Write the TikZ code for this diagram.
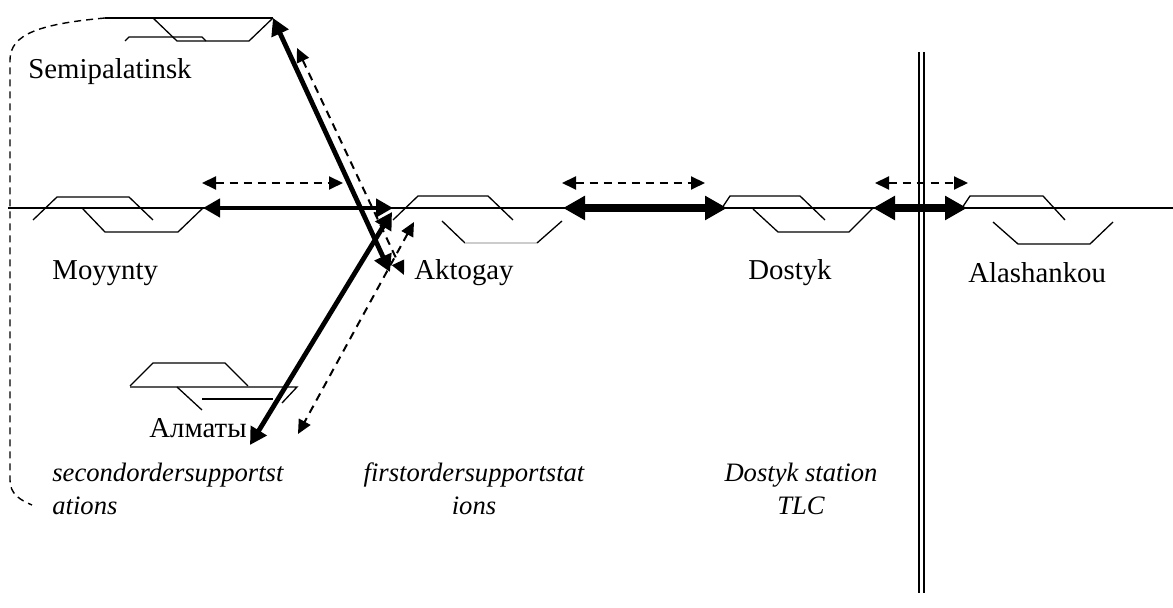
\documentclass[tikz,border=0pt]{standalone}
\usepackage{fontspec}
\setmainfont{Liberation Serif}
\usepackage{tikz}
\usetikzlibrary{arrows.meta}

\tikzset{
  rail/.style={line width=0.65pt},
  link/.style={line width=2.4pt,{Triangle[length=8.5pt,width=9pt]}-{Triangle[length=8.5pt,width=9pt]}},
  mainlink/.style={line width=4pt,{Triangle[length=11pt,width=11.5pt]}-{Triangle[length=11pt,width=11.5pt]}},
  planlink/.style={line width=1pt,dash pattern=on 4pt off 3pt,{Triangle[length=7pt,width=6.5pt]}-{Triangle[length=7pt,width=6.5pt]}},
  stname/.style={font=\fontsize{14.4}{16}\selectfont,inner sep=0pt},
  note/.style={font=\fontsize{13.3}{16.5}\selectfont\itshape,inner sep=0pt}
}

\begin{document}
\begin{tikzpicture}[x=0.5pt,y=-0.5pt]
\useasboundingbox (0,0) rectangle (1173,608);

\draw[rail] (8,208) -- (1173,208);
\draw[line width=0.8pt] (919,52) -- (919,593);
\draw[line width=0.8pt] (924,52) -- (924,593);

\draw[rail] (105,18) -- (273,18);
\draw[rail] (153,18) -- (177,41) -- (249,41) -- (273,18);
\draw[rail] (125,41) -- (129,37) -- (202,37) -- (206,41);
\draw[rail] (33,220) -- (57,197) -- (129,197) -- (153,220);
\draw[rail] (82,208) -- (105,232) -- (178,232) -- (203,208);
\draw[rail] (393,220) -- (418,196) -- (488,196) -- (513,220);
\draw[rail] (442,221) -- (465,243);
\draw[rail,gray!40] (465,243) -- (537,243);
\draw[rail] (537,243) -- (562,221);
\draw[rail] (722,208) -- (730,196) -- (800,196) -- (825,220);
\draw[rail] (753,209) -- (778,232) -- (849,232) -- (873,208);
\draw[rail] (962,208) -- (970,196) -- (1043,196) -- (1065,220);
\draw[rail] (993,222) -- (1018,244) -- (1090,244) -- (1113,222);
\draw[rail] (130,386) -- (153,363) -- (225,363) -- (248,386);
\draw[rail] (130,387) -- (297,387) -- (282,403);
\draw[rail] (202,399) -- (273,399);
\draw[rail] (177,387) -- (202,410);

\draw[line width=0.7pt,dash pattern=on 3.5pt off 2.5pt] (105,18) .. controls (40,24) and (10,34) .. (10,60) -- (10,480) .. controls (10,494) and (20,500) .. (32,505);

\node[stname] (semi) at (110,72) {Semipalatinsk};
\node[stname,anchor=west] (moy) at (52,273) {Moyynty};
\node[stname] (akt) at (464,273) {Aktogay};
\node[stname,anchor=west] (dos) at (748,273) {Dostyk};
\node[stname,anchor=west] (ala) at (968,273) {Alashankou};
\node[stname] (alm) at (198,428) {Алматы};

\node[note,align=left,anchor=west] (second) at (52,489) {secondordersupportst\\ations};
\node[note,align=center] (first) at (474,489) {firstordersupportstat\\ions};
\node[note,align=center] (tlc) at (801,489) {Dostyk station\\TLC};

\coordinate (moy-e) at (203,208);
\coordinate (akt-w) at (393,208);
\coordinate (moy-pe) at (202,183);
\coordinate (akt-pw) at (343,183);
\coordinate (semi-s) at (273,18);
\coordinate (akt-n) at (390,272);
\coordinate (semi-ps) at (297,48);
\coordinate (akt-pn) at (404,275);
\coordinate (akt-sw) at (392,212);
\coordinate (alm-ne) at (250,445);
\coordinate (akt-psw) at (414,222);
\coordinate (alm-pne) at (298,434);
\coordinate (akt-e) at (563,208);
\coordinate (dos-w) at (727,208);
\coordinate (akt-pe) at (562,183);
\coordinate (dos-pw) at (705,183);
\coordinate (dos-e) at (873,208);
\coordinate (ala-w) at (967,208);
\coordinate (dos-pe) at (875,183);
\coordinate (ala-pw) at (968,183);

\draw[planlink] (moy-pe) -- (akt-pw);
\draw[link] (moy-e) -- (akt-w);
\draw[planlink] (semi-ps) -- (akt-pn);
\draw[link] (semi-s) -- (akt-n);
\draw[planlink] (akt-psw) -- (alm-pne);
\draw[link] (akt-sw) -- (alm-ne);
\draw[planlink] (akt-pe) -- (dos-pw);
\draw[mainlink] (akt-e) -- (dos-w);
\draw[planlink] (dos-pe) -- (ala-pw);
\draw[mainlink] (dos-e) -- (ala-w);
\end{tikzpicture}
\end{document}
